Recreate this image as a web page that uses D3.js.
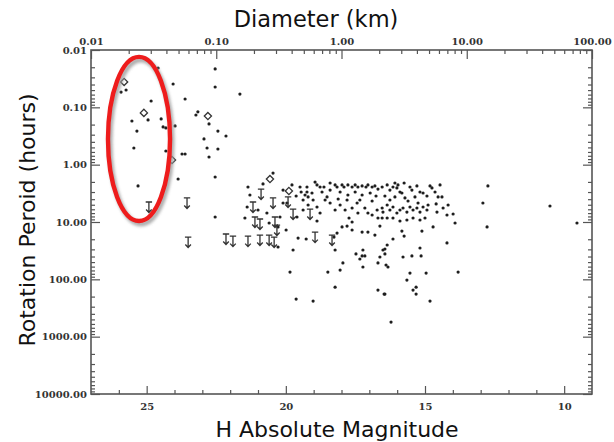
<!DOCTYPE html>
<html><head><meta charset="utf-8">
<script src="https://cdn.jsdelivr.net/npm/d3@7"></script>
<style>body{margin:0;background:#fff;} svg{display:block;}</style>
</head><body><svg id="c" width="614" height="442"></svg>
<script>
// ---- data (H absolute magnitude, rotation period in hours) ----
const dotH = [24.59,22.54,25.92,25.74,24.05,22.54,23.62,24.84,21.65,25.53,
24.95,24.48,23.16,23.23,22.76,24.41,24.31,23.98,25.35,22.44,
22.15,22.94,25.46,22.83,22.44,24.31,23.73,23.62,22.76,23.87,
22.54,25.31,22.54,20.46,21.36,20.82,21.39,21.47,20.68,20.60,
20.21,20.28,20.10,19.96,19.99,19.49,19.45,19.24,19.24,18.95,
18.88,18.77,18.63,18.23,18.16,17.98,17.91,17.77,17.62,17.51,
17.41,17.26,17.12,17.05,16.90,16.80,16.69,16.54,16.36,16.26,
16.15,16.01,15.97,15.90,15.83,15.54,15.47,15.29,15.18,15.07,
14.82,14.75,14.93,14.53,14.39,12.74,12.92,14.17,13.99,13.92,
12.77,14.71,15.11,10.51,9.54,15.75,16.15,14.21,15.18,15.79,
15.47,15.14,16.44,16.44,13.81,14.96,15.54,15.65,15.43,15.32,
15.32,14.82,16.44,16.22,
16.54,16.51,16.36,16.26,16.15,16.01,15.90,15.79,15.65,15.54,15.43,15.29,15.18,15.07,14.93,14.89,16.54,16.36,16.15,15.90,15.65,15.43,15.18,15.00,16.62,
20.10,19.38,19.38,19.20,19.02,18.88,18.77,18.52,18.41,18.23,18.05,17.80,17.62,17.44,17.16,17.05,16.72,16.69,17.62,17.80,
17.98,18.16,18.27,17.73,17.62,17.26,17.05,16.80,16.36,16.51,16.62,16.40,16.33,16.69,17.23,17.26,17.16,17.48,17.34,17.23,
18.23,17.95,18.05,18.49,18.23,19.56,19.27,20.28,19.74,19.85,19.63,19.02,16.69,16.47,15.83,18.88,19.20,14.21,19.60,
19.31,19.06,18.70,18.41,18.05,17.77,17.51,17.26,16.97,16.76,16.44,16.08,15.72,15.36,14.64,18.59,18.12,17.34,16.90,17.87,
17.41,16.90,16.26,15.61,15.25,14.60,14.57,14.35,21.00,21.29,19.63,19.78,18.41,16.08,14.46,15.75];
const dotP = [0.0206,0.0214,0.0541,0.0499,0.0392,0.0442,0.0716,0.0776,0.0586,0.173,
0.166,0.159,0.120,0.136,0.195,0.220,0.229,0.211,0.259,0.259,
0.316,0.356,0.512,0.512,0.533,0.578,0.651,0.651,0.735,1.78,
1.64,2.35,8.18,1.40,2.45,2.17,5.47,8.51,6.97,10.4,
8.18,12.2,2.77,4.66,13.8,2.45,3.00,2.45,3.00,2.01,
2.26,2.45,2.45,2.26,2.45,2.26,2.45,2.26,2.45,2.26,
2.45,2.35,2.45,2.26,2.45,2.35,2.66,2.45,2.26,2.77,
2.45,2.55,2.26,3.00,3.12,2.45,2.77,2.35,3.00,3.12,
2.35,2.55,3.52,3.66,3.66,2.35,4.66,5.05,7.25,10.4,
12.2,12.2,14.4,5.26,10.4,17.6,19.8,23.2,28.4,40.8,
39.1,39.1,29.6,36.1,74.7,77.7,77.7,103,154,137,
181,239,181,556,
5.70,6.70,5.05,6.18,5.47,6.97,6.18,5.70,6.70,5.47,6.18,5.70,6.70,5.47,6.18,5.05,8.51,8.51,8.51,9.61,9.23,8.51,9.23,8.51,11.8,
4.66,6.18,4.13,3.66,4.13,9.61,6.97,3.66,4.66,6.18,5.05,4.13,5.70,4.66,5.70,6.97,6.18,8.51,10.0,11.8,
12.2,15.6,18.3,8.51,13.8,15.0,15.0,16.9,25.2,30.8,40.8,56.2,60.9,51.8,30.8,39.1,39.1,36.1,44.2,60.9,
137,51.8,68.9,74.7,30.8,19.1,19.8,27.3,30.8,74.7,221,239,154,181,14.4,5.47,5.05,7.55,8.18,
3.38,3.12,3.00,2.77,3.00,3.38,3.00,3.38,3.12,3.52,3.52,3.66,3.81,3.66,3.00,4.13,3.97,4.13,4.30,6.18,
6.97,7.55,4.13,4.30,4.66,4.84,6.70,5.70,6.18,3.38,3.52,2.26,2.09,2.09,2.26,2.09];
// upper limits (arrows)
const limH = [24.92,23.55,23.51,22.15,21.90,21.36,20.89,21.18,20.46,19.92,19.74,19.13,20.93,20.60,20.42,18.95,18.34,21.11,20.93,20.39,20.32];
const limP = [4.48,3.81,18.3,16.2,17.6,17.6,2.66,4.48,3.81,3.66,5.94,5.94,16.9,16.9,18.3,15.0,16.9,8.18,8.87,8.18,11.3];
// diamonds
const diaH = [25.81,25.10,22.80,24.09,20.57,19.89];
const diaP = [0.0361,0.125,0.142,0.829,1.78,2.88];
// axis ticks
const diamTicks = [0.01,0.1,1,10,100];
const diamLabels = ["0.01","0.10","1.00","10.00","100.00"];
const periodTicks = [0.01,0.1,1,10,100,1000,10000];
const periodLabels = ["0.01","0.10","1.00","10.00","100.00","1000.00","10000.00"];
const magTicks = [25,20,15,10];
const magLabels = ["25","20","15","10"];
// highlighted region (ellipse bounds: H, period)
const ringH = [26.39,24.16];
const ringP = [0.0132,9.61];

const svg = d3.select("#c");
const L=91,R=592,T=50,B=394;
const x = d3.scaleLinear().domain([27,9]).range([L,R]);
const y = d3.scaleLog().domain([0.01,10000]).range([T,B]);
const xTop = d3.scaleLog().domain([0.01,100]).range([L,R]);

const lblFont = "DejaVu Serif", lblCol="#333", axCol="#555";

function minorLog(lo,hi){const a=[];for(let k=lo;k<hi;k++)for(let m=2;m<=9;m++)a.push(m*Math.pow(10,k));return a;}

function styleAxis(g){
  g.select(".domain").remove();
  g.selectAll(".tick line").attr("stroke",axCol).attr("stroke-width",1.2);
  g.selectAll(".tick text").attr("font-family",lblFont).attr("font-weight","bold").attr("font-size",10).attr("fill",lblCol);
}

// bottom axis
svg.append("g").attr("transform",`translate(0,${B})`)
  .call(d3.axisBottom(x).tickValues(d3.range(26,9,-1).filter(v=>v%5!==0)).tickSize(-4).tickFormat(""))
  .call(styleAxis);
svg.append("g").attr("transform",`translate(0,${B})`)
  .call(d3.axisBottom(x).tickValues(magTicks).tickSize(-8).tickPadding(9).tickFormat((d,i)=>magLabels[i]))
  .call(styleAxis);
// top axis
svg.append("g").attr("transform",`translate(0,${T})`)
  .call(d3.axisTop(xTop).tickValues(minorLog(-2,2)).tickSize(-4).tickFormat(""))
  .call(styleAxis);
svg.append("g").attr("transform",`translate(0,${T})`)
  .call(d3.axisTop(xTop).tickValues(diamTicks).tickSize(-9).tickPadding(5).tickFormat((d,i)=>diamLabels[i]))
  .call(styleAxis);
// left axis
svg.append("g").attr("transform",`translate(${L},0)`)
  .call(d3.axisLeft(y).tickValues(minorLog(-2,4)).tickSize(-4).tickFormat(""))
  .call(styleAxis);
svg.append("g").attr("transform",`translate(${L},0)`)
  .call(d3.axisLeft(y).tickValues(periodTicks).tickSize(-9).tickPadding(4).tickFormat((d,i)=>periodLabels[i]))
  .call(styleAxis);
// right axis
svg.append("g").attr("transform",`translate(${R},0)`)
  .call(d3.axisRight(y).tickValues(minorLog(-2,4)).tickSize(-4).tickFormat(""))
  .call(styleAxis);
svg.append("g").attr("transform",`translate(${R},0)`)
  .call(d3.axisRight(y).tickValues(periodTicks).tickSize(-9).tickFormat(""))
  .call(styleAxis);

// frame
svg.append("rect").attr("x",L).attr("y",T).attr("width",R-L).attr("height",B-T)
  .attr("fill","none").attr("stroke",axCol).attr("stroke-width",1.6);

// titles
const tf = "DejaVu Sans";
svg.append("text").attr("x",316).attr("y",27).attr("text-anchor","middle")
  .attr("font-family",tf).attr("font-size",22.5).attr("fill","#111").text("Diameter (km)");
svg.append("text").attr("x",337).attr("y",437).attr("text-anchor","middle")
  .attr("font-family",tf).attr("font-size",22).attr("fill","#111").text("H Absolute Magnitude");
svg.append("text").attr("transform","translate(35,220) rotate(-90)").attr("text-anchor","middle")
  .attr("font-family",tf).attr("font-size",22).attr("fill","#111").text("Rotation Peroid (hours)");

// data
const dots = dotH.map((h,i)=>({h,p:dotP[i]})).filter(d=>d.p!==undefined);
svg.append("g").selectAll("circle").data(dots).join("circle")
  .attr("cx",d=>x(d.h)).attr("cy",d=>y(d.p)).attr("r",1.6).attr("fill","#1e1e1e");

const lims = limH.map((h,i)=>({h,p:limP[i]}));
const lg = svg.append("g").attr("stroke","#333").attr("stroke-width",1.3).attr("fill","none");
lims.forEach(d=>{
  const cx=x(d.h), cy=y(d.p);
  lg.append("path").attr("d",`M${cx-3.2},${cy}H${cx+3.2}M${cx},${cy}V${cy+10.5}M${cx-2.8},${cy+7.5}L${cx},${cy+10.5}L${cx+2.8},${cy+7.5}`);
});

const dias = diaH.map((h,i)=>({h,p:diaP[i]}));
svg.append("g").selectAll("path").data(dias).join("path")
  .attr("d",d=>{const cx=x(d.h),cy=y(d.p),s=3.6;return `M${cx},${cy-s}L${cx+s},${cy}L${cx},${cy+s}L${cx-s},${cy}Z`;})
  .attr("fill","none").attr("stroke","#333").attr("stroke-width",1.3);

// highlight ellipse
const ex1=x(ringH[0]), ex2=x(ringH[1]), ey1=y(ringP[0]), ey2=y(ringP[1]);
const ecx=(ex1+ex2)/2, ecy=(ey1+ey2)/2, erx=Math.abs(ex2-ex1)/2, ery=Math.abs(ey2-ey1)/2;
const defs = svg.append("defs");
defs.append("filter").attr("id","blur").append("feGaussianBlur").attr("stdDeviation",1.5);
svg.append("ellipse").attr("cx",ecx+2).attr("cy",ecy+3).attr("rx",erx).attr("ry",ery)
  .attr("fill","none").attr("stroke","#9a9a9a").attr("stroke-width",5).attr("filter","url(#blur)").attr("opacity",0.8);
svg.append("ellipse").attr("cx",ecx).attr("cy",ecy).attr("rx",erx).attr("ry",ery)
  .attr("fill","none").attr("stroke","#ee1c1c").attr("stroke-width",4.4);
</script></body></html>
